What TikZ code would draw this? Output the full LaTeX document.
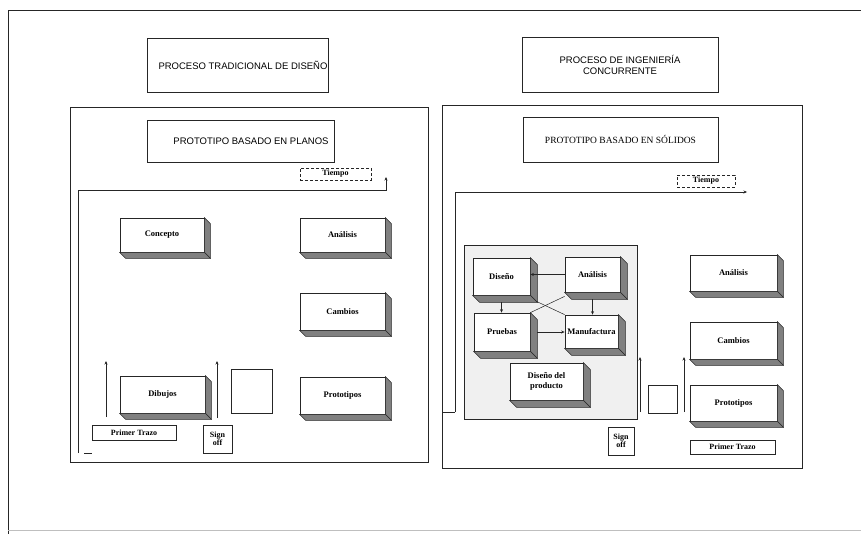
\documentclass[tikz,border=0pt]{standalone}
\usepackage{fontspec}
\setmainfont{Liberation Serif}
\newfontfamily\arialf{Liberation Sans}
\usetikzlibrary{arrows.meta}
\newcommand{\sidefaces}[2]{%
  \filldraw[sideface] (#1.north east) -- ++(#2,#2) -- ([shift={(#2,#2)}]#1.south east) -- (#1.south east) -- cycle;
  \filldraw[sideface] (#1.south west) -- ++(#2,#2) -- ([shift={(#2,#2)}]#1.south east) -- (#1.south east) -- cycle;
}
\begin{document}
\begin{tikzpicture}[x=1pt,y=-1pt,
  line/.style={line width=0.7pt, black!85},
  titlebox/.style={draw=black!85, line width=0.7pt, inner sep=0pt, font=\arialf\fontsize{9.5}{11}\selectfont, align=center},
  panel/.style={draw=black!85, line width=0.8pt},
  cube/.style={draw=black!85, fill=white, line width=0.7pt, inner sep=0pt, align=center,
    font=\bfseries\fontsize{8.5}{9.5}\selectfont},
  sideface/.style={draw=black!85, fill=black!50, line width=0.5pt},
  label/.style={draw=black!85, line width=0.7pt, inner sep=0pt, align=center,
    font=\bfseries\fontsize{8}{8.5}\selectfont},
  arr/.style={line, -{Stealth[length=3.5pt,width=3pt]}},
]
\useasboundingbox (0,0) rectangle (861,534);
% outer frame
\draw[line] (861,10) -- (8,10) -- (8,534);
\draw[black!25, line width=0.8pt] (8,530) -- (861,530);

% ---------------- left side ----------------
\node[titlebox, minimum width=181pt, minimum height=54pt] (t1) at (237.5,65) {};
\node[font=\arialf\fontsize{9.5}{11}\selectfont] at (243,65) {PROCESO TRADICIONAL DE DISEÑO};
\draw[panel] (70,107) rectangle (428,462);
\node[titlebox, minimum width=187pt, minimum height=42pt] (p1) at (240.5,141) {};
\node[font=\arialf\fontsize{9.5}{11}\selectfont] at (251,141) {PROTOTIPO BASADO EN PLANOS};
\node[label, densely dashed, minimum width=71pt, minimum height=12pt] (tL) at (335.5,174) {Tiempo};

\coordinate (aL0) at (78,453);
\coordinate (aL1) at (78,190);
\coordinate (aL2) at (386,190);
\coordinate (aL3) at (386,177);
\draw[arr] (aL0) -- (aL1) -- (aL2) -- (aL3);
\coordinate (tk1) at (84,453);
\coordinate (tk2) at (92,453);
\draw[line, line width=0.5pt] (tk1) -- (tk2);

\node[cube, minimum width=84pt, minimum height=34pt] (conc) at (162,235) {Concepto};
\node[cube, minimum width=85pt, minimum height=34pt] (anL) at (342.5,235) {Análisis};
\node[cube, minimum width=85pt, minimum height=37pt] (camL) at (342.5,311.5) {Cambios};
\node[cube, minimum width=85pt, minimum height=37pt] (dib) at (162.5,394.5) {Dibujos};
\node[cube, minimum width=85pt, minimum height=37pt] (proL) at (342.5,395.5) {Prototipos};
\foreach \n in {conc,anL,camL,dib,proL} {\sidefaces{\n}{6}}

\node[draw=black!85, line width=0.6pt, minimum width=41pt, minimum height=44pt, inner sep=0pt] (sqL) at (251.5,391) {};

\coordinate (u1a) at (106,417);
\coordinate (u1b) at (106,361);
\coordinate (u2a) at (217,418);
\coordinate (u2b) at (217,361);
\draw[arr] (u1a) -- (u1b);
\draw[arr] (u2a) -- (u2b);

\node[label, minimum width=84pt, minimum height=15pt] (ptL) at (134,432.5) {Primer Trazo};
\node[label, minimum width=29pt, minimum height=28pt] (soL) at (217.5,439) {Sign\\off};

% ---------------- right side ----------------
\node[titlebox, minimum width=196pt, minimum height=55pt] (t2) at (620,64.5) {PROCESO DE INGENIERÍA\\CONCURRENTE};
\draw[panel] (442,105) rectangle (802,468);
\node[titlebox, font=\fontsize{9.5}{11}\selectfont, minimum width=195pt, minimum height=45pt] (p2) at (620.5,139.5) {PROTOTIPO BASADO EN SÓLIDOS};
\node[label, densely dashed, minimum width=58pt, minimum height=12pt] (tR) at (706,181) {Tiempo};

\coordinate (aR0) at (455,412);
\coordinate (aR1) at (455,192);
\coordinate (aR2) at (747,192);
\draw[arr] (aR0) -- (aR1) -- (aR2);
\coordinate (tk3) at (442,412);
\draw[line, line width=0.5pt] (tk3) -- (aR0);

\draw[draw=black!85, fill=black!6, line width=0.7pt] (464,245) rectangle (637,419);

\node[cube, minimum width=57pt, minimum height=37pt] (dis) at (501.5,276.5) {Diseño};
\node[cube, minimum width=55pt, minimum height=35pt] (anI) at (592.5,274.5) {Análisis};
\node[cube, minimum width=56pt, minimum height=38pt] (pru) at (502,332) {Pruebas};
\node[cube, minimum width=53pt, minimum height=33pt] (man) at (591.5,331.5) {Manufactura};
\node[cube, minimum width=73pt, minimum height=37pt] (dp) at (546.5,381.5) {Diseño del\\producto};
\foreach \n in {dis,anI,pru,man,dp} {\sidefaces{\n}{7}}

\draw[arr] (anI.west) -- (anI.west -| dis.east);
\draw[arr, shorten <=7pt] (dis.south) -- (dis.south |- pru.north);
\draw[arr, shorten <=7pt] (anI.south) -- (anI.south |- man.north);
\draw[arr, shorten <=7pt] (pru.east) -- (pru.east -| man.west);
\draw[line, line width=0.5pt] ([shift={(6,6)}]dis.south east) -- (man.north west);
\draw[line, line width=0.5pt] (pru.north east) -- ([shift={(0,4)}]anI.south west);

\node[cube, minimum width=87pt, minimum height=36pt] (anR) at (733.5,273) {Análisis};
\node[cube, minimum width=87pt, minimum height=37pt] (camR) at (733.5,340.5) {Cambios};
\node[cube, minimum width=87pt, minimum height=36pt] (proR) at (733.5,403) {Prototipos};
\foreach \n in {anR,camR,proR} {\sidefaces{\n}{6}}

\node[draw=black!85, line width=0.6pt, minimum width=29pt, minimum height=28pt, inner sep=0pt] (sqR) at (662.5,399) {};

\coordinate (u3a) at (640,412);
\coordinate (u3b) at (640,357);
\coordinate (u4a) at (684,412);
\coordinate (u4b) at (684,357);
\draw[arr] (u3a) -- (u3b);
\draw[arr] (u4a) -- (u4b);

\node[label, minimum width=26pt, minimum height=28pt] (soR) at (621,441) {Sign\\off};
\node[label, minimum width=85pt, minimum height=14pt] (ptR) at (732.5,447) {Primer Trazo};
\end{tikzpicture}
\end{document}
